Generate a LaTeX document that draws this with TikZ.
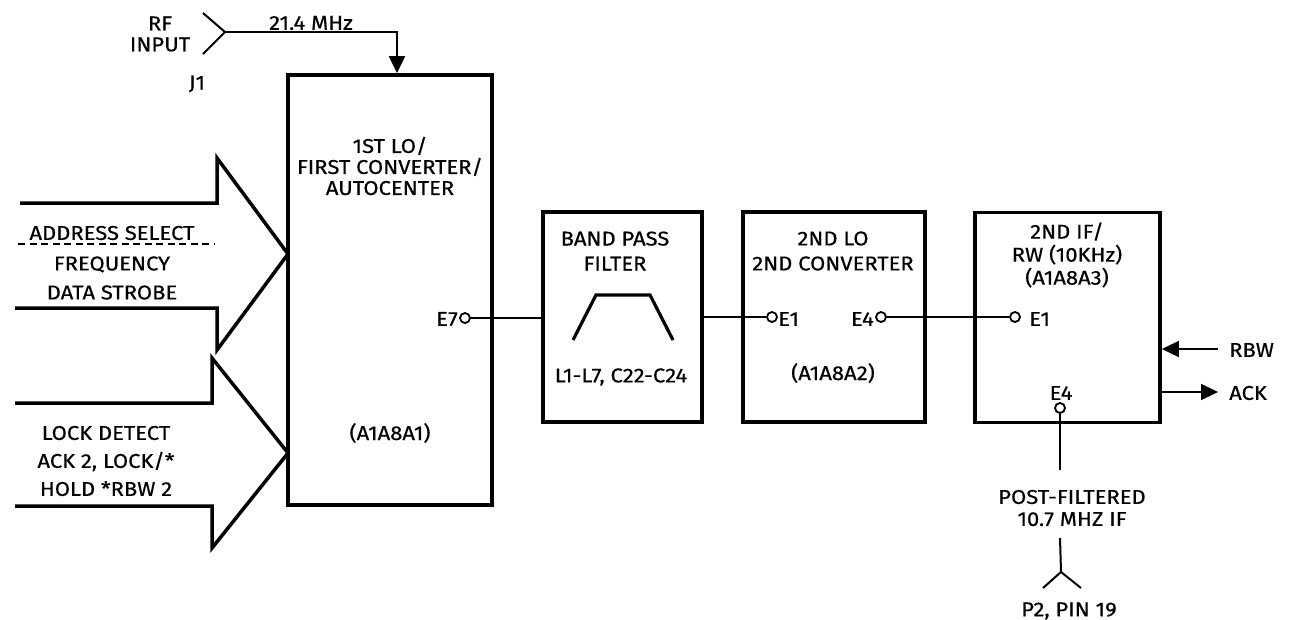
\documentclass[tikz,border=0pt]{standalone}
\usepackage{fontspec}
\setmainfont[FakeStretch=1.1,FakeBold=0.5,AutoFakeBold=0.5]{Fira Sans}
\usetikzlibrary{arrows.meta}
\begin{document}
\begin{tikzpicture}[x=1pt,y=-1pt,
  blk/.style={draw,line width=3.8pt,inner sep=0pt},
  lbl/.style={font=\fontsize{20}{21}\selectfont,align=center,inner sep=0pt},
  wire/.style={line width=2pt},
  term/.style={draw,circle,line width=1.8pt,fill=white,minimum size=10pt,inner sep=0pt},
  bigarrow/.style={line width=3.5pt,line join=miter},
  tip/.style={-{Triangle[width=16pt,length=17pt]}},
]
\useasboundingbox (0,0) rectangle (1289,619);
% blocks
\node[blk,minimum width=204pt,minimum height=430pt] (b1) at (390,290) {};
\node[blk,minimum width=159pt,minimum height=210pt] (bpf) at (622.5,317) {};
\node[blk,minimum width=182pt,minimum height=210pt] (lo2) at (834,317) {};
\node[blk,minimum width=185pt,minimum height=210pt] (if2) at (1067.5,317.5) {};
% block 1 text
\node[lbl] (t1) at (390,166) {1ST LO/\\FIRST CONVERTER/\\AUTOCENTER};
\node[lbl] (t1b) at (390,433) {(A1A8A1)};
% bpf text
\node[lbl,font=\fontsize{20}{25}\selectfont] (t2) at (615,251) {BAND PASS\\FILTER};
\node[lbl] (t2b) at (621,377) {L1-L7, C22-C24};
\draw[line width=3.2pt] (573,340) -- (596,295) -- (650,295) -- (673,340);
% lo2 text
\node[lbl,font=\fontsize{20}{25}\selectfont] (t3) at (833,251) {2ND LO\\2ND CONVERTER};
\node[lbl] (t3b) at (833,373) {(A1A8A2)};
% if2 text
\node[lbl,font=\fontsize{20}{23}\selectfont] (t4) at (1067,255) {2ND IF/\\RW (10KHz)\\(A1A8A3)};
% terminals
\node[term] (e7) at (465,318) {};
\node[lbl,anchor=east] (e7l) at (458,319) {E7};
\node[term] (e1a) at (772,317) {};
\node[lbl,anchor=west] (e1al) at (778,319) {E1};
\node[term] (e4a) at (881,317) {};
\node[lbl,anchor=east] (e4al) at (874,319) {E4};
\node[term] (e1b) at (1015,317) {};
\node[lbl,anchor=west] (e1bl) at (1029,319) {E1};
\node[term] (e4b) at (1060,408) {};
\node[lbl] (e4bl) at (1061,393) {E4};
\draw[wire] (e7) -- (bpf.west |- e7);
\draw[wire] (bpf.east |- e1a) -- (e1a);
\draw[wire] (e4a) -- (e1b);
\coordinate (pf) at (1060,470);
\draw[wire] (e4b) -- (pf);
\node[lbl,font=\fontsize{20}{22}\selectfont] (pft) at (1072,508) {POST-FILTERED\\10.7 MHZ IF};
% P2 connector
\coordinate (p2top) at (1060,538);
\coordinate (p2v) at (1061,572);
\draw[wire] (p2top) -- (p2v);
\draw[wire,line join=miter] (1043,588) -- (p2v) -- (1081,588);
\node[lbl] (p2) at (1069,611) {P2, PIN 19};
% RBW / ACK
\coordinate (rbw) at (1218,349);
\coordinate (ack) at (1218,392);
\draw[wire,tip] (rbw) -- (if2.east |- rbw);
\draw[wire,tip] (if2.east |- ack) -- (ack);
\node[lbl,anchor=west] (rbwl) at (1229,350) {RBW};
\node[lbl,anchor=west] (ackl) at (1229,393) {ACK};
% RF input
\coordinate (j1) at (225,32);
\draw[wire] (203,13) -- (j1) -- (203,54);
\draw[wire,tip] (j1) -| (b1.north -| 397,0);
\node[lbl] (rf) at (160,34) {RF\\INPUT};
\node[lbl] (j1l) at (197,84) {J1};
\node[lbl] (mhz) at (311,23) {21.4 MHz};
% big arrows
\draw[bigarrow] (20,203) -- (217,203) -- (217,158) -- (288,254) -- (217,350) -- (217,308) -- (15,308);
\draw[bigarrow] (15,403) -- (212,403) -- (212,358) -- (288,453) -- (212,548) -- (212,506) -- (15,506);
\draw[line width=1.6pt,dash pattern=on 7pt off 4.5pt] (18,244) -- (215,244);
\node[lbl] (as) at (112,233) {ADDRESS SELECT};
\node[lbl,font=\fontsize{20}{29}\selectfont] (fd) at (112,278) {FREQUENCY\\DATA STROBE};
\node[lbl,font=\fontsize{20}{28}\selectfont] (ld) at (106,461) {LOCK DETECT\\ACK 2, LOCK/*\\HOLD *RBW 2};
\end{tikzpicture}
\end{document}
